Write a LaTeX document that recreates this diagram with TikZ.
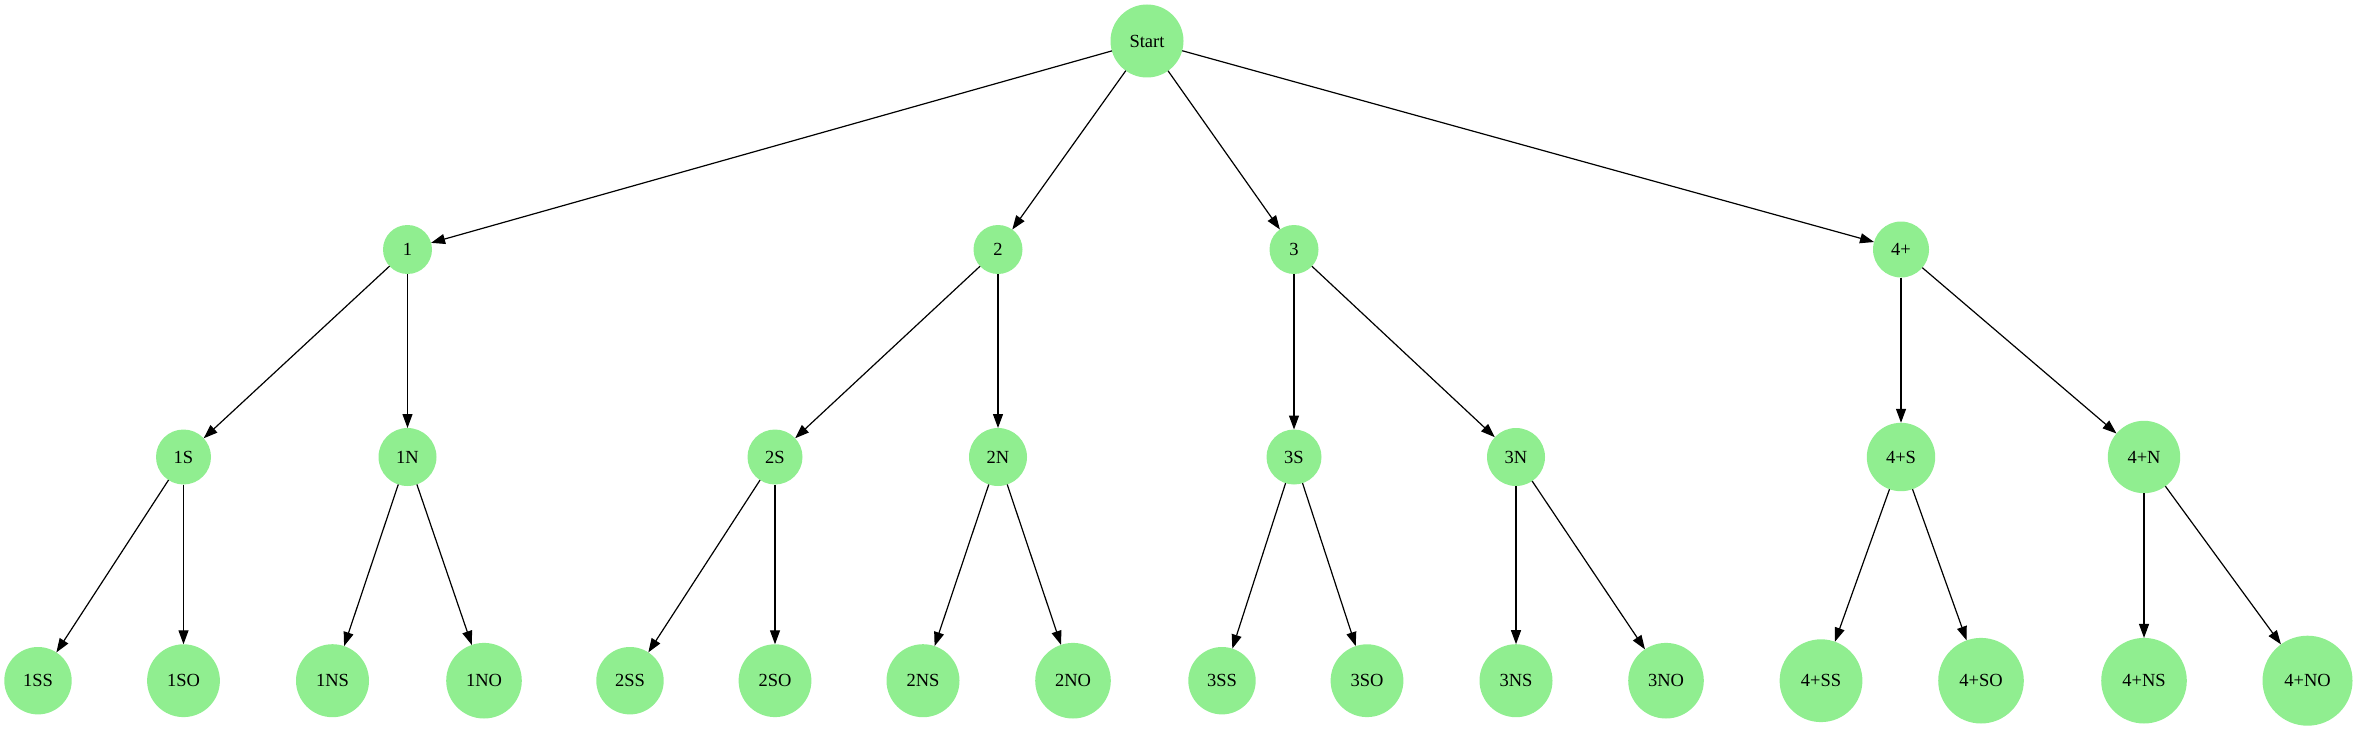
\documentclass[tikz,border=0pt]{standalone}
\usepackage{fontspec}
\setmainfont{Liberation Serif}
\usetikzlibrary{arrows.meta}
\definecolor{lg}{RGB}{144,238,144}
\tikzset{
  nd/.style={circle,fill=lg,inner sep=0pt,outer sep=0pt,minimum size=2*#1,
    font=\fontsize{18.5}{18.5}\selectfont},
  edge/.style={line width=1.2pt,-{Triangle[length=14pt,width=10pt]}}
}
\begin{document}
\begin{tikzpicture}[x=1pt,y=-1pt]
\useasboundingbox (0,0) rectangle (2357,730);
% level 0
\node[nd=36.5] (st) at (1147,41) {Start};
% level 1
\node[nd=24.5] (a1) at (407.5,249.5) {1};
\node[nd=24.5] (a2) at (998,249.5) {2};
\node[nd=24.5] (a3) at (1294,249.5) {3};
\node[nd=28] (a4) at (1901,249.5) {4+};
% level 2
\node[nd=27.5] (b1S) at (183.5,457) {1S};
\node[nd=29] (b1N) at (407.5,457) {1N};
\node[nd=27.5] (b2S) at (775,457) {2S};
\node[nd=29] (b2N) at (998,457) {2N};
\node[nd=27.5] (b3S) at (1294,457) {3S};
\node[nd=29] (b3N) at (1516,457) {3N};
\node[nd=34.2] (b4S) at (1901,457) {4+S};
\node[nd=36.2] (b4N) at (2144,457) {4+N};
% level 3
\node[nd=33.7] (c1SS) at (38,680.7) {1SS};
\node[nd=36.4] (c1SO) at (183.5,680.7) {1SO};
\node[nd=36.5] (c1NS) at (332.5,680.7) {1NS};
\node[nd=37.8] (c1NO) at (484,680.7) {1NO};
\node[nd=33.7] (c2SS) at (630,680.7) {2SS};
\node[nd=36.4] (c2SO) at (775,680.7) {2SO};
\node[nd=36.5] (c2NS) at (923,680.7) {2NS};
\node[nd=37.8] (c2NO) at (1073,680.7) {2NO};
\node[nd=33.7] (c3SS) at (1222,680.7) {3SS};
\node[nd=36.4] (c3SO) at (1367,680.7) {3SO};
\node[nd=36.5] (c3NS) at (1516,680.7) {3NS};
\node[nd=37.8] (c3NO) at (1666,680.7) {3NO};
\node[nd=41.4] (c4SS) at (1821,680.7) {4+SS};
\node[nd=42.8] (c4SO) at (1981,680.7) {4+SO};
\node[nd=42.8] (c4NS) at (2144,680.7) {4+NS};
\node[nd=45] (c4NO) at (2307.5,680.7) {4+NO};
% edges
\foreach \t in {a1,a2,a3,a4} \draw[edge] (st) -- (\t);
\foreach \i in {1,2,3,4} {
  \draw[edge] (a\i) -- (b\i S);
  \draw[edge] (a\i) -- (b\i N);
  \draw[edge] (b\i S) -- (c\i SS);
  \draw[edge] (b\i S) -- (c\i SO);
  \draw[edge] (b\i N) -- (c\i NS);
  \draw[edge] (b\i N) -- (c\i NO);
}
\end{tikzpicture}
\end{document}
